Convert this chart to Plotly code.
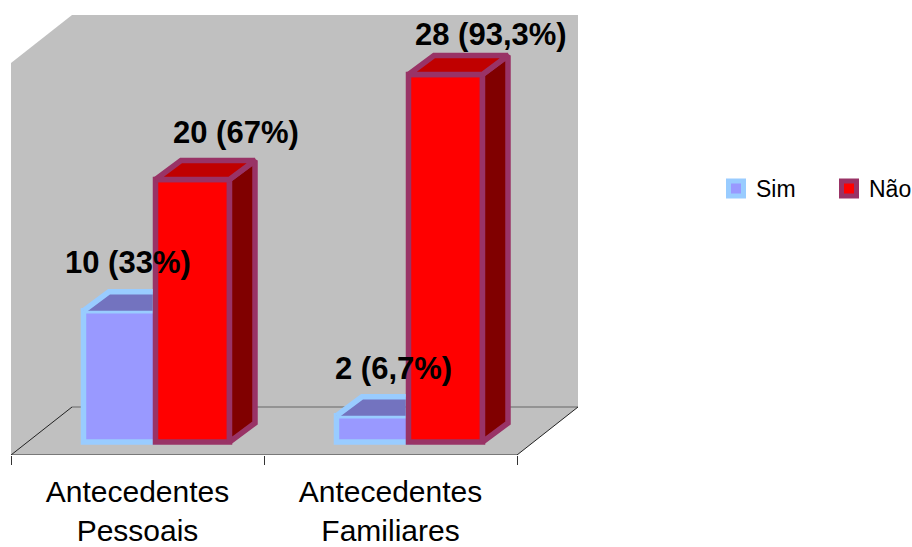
import plotly.graph_objects as go

# Chart data
categories = ["Antecedentes<br>Pessoais", "Antecedentes<br>Familiares"]
sim_values = [10, 2]
nao_values = [20, 28]
sim_labels = ["10 (33%)", "2 (6,7%)"]
nao_labels = ["20 (67%)", "28 (93,3%)"]

# Pixel scale of the drawing area
PX_PER_CAT = 253.0
PX_PER_VAL = 13.125
LEFT, RIGHT, TOP, BOTTOM = 11, 578, 15, 455
BASE_PX = 442

# Bar layout in category units, measured from the category centre
bar_w = 74 / PX_PER_CAT
sim_off = -54 / PX_PER_CAT
nao_off = 18 / PX_PER_CAT
depth_x = 25.5 / PX_PER_CAT
depth_y = 19 / PX_PER_VAL
edge_w = 5.5

# Floor and wall extent in axis units
floor_dx = 61 / PX_PER_CAT
floor_dy = 48 / PX_PER_VAL
y_floor = -(BOTTOM - BASE_PX) / PX_PER_VAL
y_top = (BASE_PX - TOP) / PX_PER_VAL
x_max = (RIGHT - LEFT) / PX_PER_CAT
n_cat = len(categories)
centres = [i + 0.5 for i in range(n_cat)]

SIM_FILL, SIM_EDGE, SIM_TOP = "#9999FF", "#99CCFF", "#7373BF"
NAO_FILL, NAO_EDGE, NAO_TOP, NAO_SIDE = "#FF0000", "#993366", "#C00000", "#800000"
FONT = "Liberation Sans, Arial, sans-serif"


def face(xs, ys, fill, edge):
    return go.Scatter(x=xs, y=ys, mode="lines", fill="toself", fillcolor=fill,
                      line=dict(color=edge, width=edge_w), hoverinfo="skip",
                      showlegend=False, cliponaxis=False)


fig = go.Figure()

# Front faces
fig.add_bar(x=centres, y=sim_values, width=bar_w, offset=sim_off, showlegend=False,
            marker=dict(color=SIM_FILL, line=dict(color=SIM_EDGE, width=edge_w)), cliponaxis=False)
fig.add_bar(x=centres, y=nao_values, width=bar_w, offset=nao_off, showlegend=False,
            marker=dict(color=NAO_FILL, line=dict(color=NAO_EDGE, width=edge_w)), cliponaxis=False)

# Top faces of the Sim bars run up to the Não bar, with no edge on that side
half_edge = (edge_w / 2) / PX_PER_CAT
for c, v in zip(centres, sim_values):
    l = c + sim_off
    r = c + nao_off - half_edge
    fig.add_trace(go.Scatter(x=[l, l + depth_x, r, r, l],
                             y=[v, v + depth_y, v + depth_y, v, v],
                             mode="none", fill="toself", fillcolor=SIM_TOP,
                             hoverinfo="skip", showlegend=False, cliponaxis=False))
    fig.add_trace(go.Scatter(x=[l, l + depth_x, r], y=[v, v + depth_y, v + depth_y],
                             mode="lines", line=dict(color=SIM_EDGE, width=edge_w),
                             hoverinfo="skip", showlegend=False, cliponaxis=False))

# Side and top faces of the Não bars
for c, v in zip(centres, nao_values):
    l = c + nao_off
    r = l + bar_w
    fig.add_trace(face([r, r + depth_x, r + depth_x, r, r],
                       [0, depth_y, v + depth_y, v, 0], NAO_SIDE, NAO_EDGE))
    fig.add_trace(face([l, l + depth_x, r + depth_x, r, l],
                       [v, v + depth_y, v + depth_y, v, v], NAO_TOP, NAO_EDGE))

# Legend entries
fig.add_scatter(x=[None], y=[None], name="Sim", mode="markers",
                marker=dict(symbol="square", size=15, color=SIM_FILL,
                            line=dict(color=SIM_EDGE, width=5)))
fig.add_scatter(x=[None], y=[None], name="Não", mode="markers",
                marker=dict(symbol="square", size=15, color=NAO_FILL,
                            line=dict(color=NAO_EDGE, width=5)))

# Wall and floor of the 3D box, behind the bars
back_l = floor_dx
back_b = y_floor + floor_dy
shapes = [
    dict(type="path", layer="below", line=dict(width=0), fillcolor="#C0C0C0", xref="x", yref="y",
         path=f"M 0 {y_floor} L 0 {y_top - floor_dy} L {back_l} {y_top} L {x_max} {y_top} "
              f"L {x_max} {back_b} L {n_cat} {y_floor} Z"),
    dict(type="line", layer="below", xref="x", yref="y", x0=back_l, y0=back_b, x1=x_max, y1=back_b,
         line=dict(color="#666666", width=1)),
    dict(type="line", layer="below", xref="x", yref="y", x0=0, y0=y_floor, x1=back_l, y1=back_b,
         line=dict(color="#222222", width=1)),
    dict(type="line", layer="below", xref="x", yref="y", x0=n_cat, y0=y_floor, x1=x_max, y1=back_b,
         line=dict(color="#222222", width=1)),
    dict(type="line", layer="below", xref="x", yref="y", x0=0, y0=y_floor, x1=n_cat, y1=y_floor,
         line=dict(color="#333333", width=1)),
]

# Value labels, nudged off their bars in pixels
annotations = []
for c, v, t, dx, dy in zip(centres, sim_values, sim_labels, [-10, 2.5], [48, 47]):
    annotations.append(dict(x=c, y=v, text=t, xshift=dx, yshift=dy))
for c, v, t, dx, dy in zip(centres, nao_values, nao_labels, [98.5, 100.5], [47, 40]):
    annotations.append(dict(x=c, y=v, text=t, xshift=dx, yshift=dy))
for a in annotations:
    a.update(xref="x", yref="y", showarrow=False, xanchor="center", yanchor="middle",
             font=dict(family=FONT, size=31, color="black", weight="bold"))

fig.update_layout(
    width=912, height=547,
    margin=dict(l=LEFT, r=912 - RIGHT, t=TOP, b=547 - BOTTOM, pad=0, autoexpand=False),
    paper_bgcolor="white", plot_bgcolor="white",
    barmode="overlay", shapes=shapes, annotations=annotations,
    font=dict(family=FONT, color="black"),
    legend=dict(orientation="h", x=(716 - LEFT) / (RIGHT - LEFT), y=1 - (167 - TOP) / (BOTTOM - TOP),
                xanchor="left", yanchor="top", font=dict(size=23, family=FONT),
                bgcolor="rgba(0,0,0,0)", itemwidth=30, entrywidth=68, entrywidthmode="pixels"),
    xaxis=dict(range=[0, x_max], tickmode="array", tickvals=centres, ticktext=categories,
               ticks="", showgrid=False, zeroline=False, showline=False,
               tickfont=dict(size=30, family=FONT, color="black"), ticklabelstandoff=16,
               minor=dict(tickmode="array", tickvals=list(range(n_cat + 1)), ticks="outside",
                          ticklen=9, tickwidth=1, tickcolor="#333333", showgrid=False)),
    yaxis=dict(range=[y_floor, y_top], visible=False),
)

fig.write_html("out.html", config=dict(displayModeBar=False))
